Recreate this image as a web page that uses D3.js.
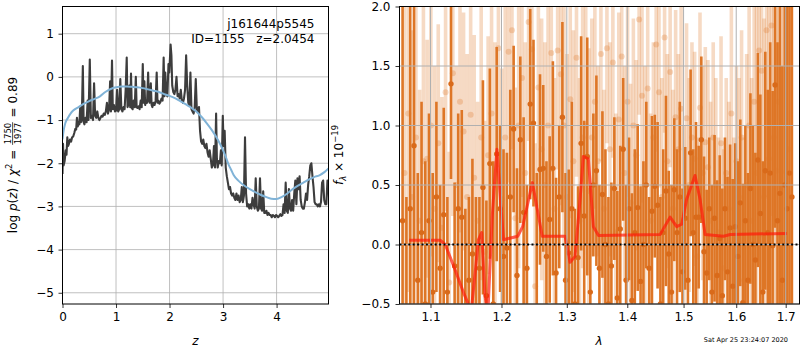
<!DOCTYPE html>
<html><head><meta charset="utf-8">
<script src="https://cdn.jsdelivr.net/npm/d3@7"></script>
<style>
body{margin:0;background:#fff}
svg{font-family:"DejaVu Sans",sans-serif}
text{white-space:pre}
</style>
</head><body><svg id="c" width="800" height="350"></svg>
<script>
// ---------- Left panel data: log p(z) ----------
const pzZ = [0.000,0.010,0.020,0.040,0.060,0.075,0.090,0.105,0.120,0.140,0.160,0.180,0.200,0.220,0.240,0.255,0.270,0.285,0.300,0.315,
0.330,0.345,0.360,0.380,0.395,0.410,0.430,0.450,0.470,0.485,0.510,0.530,0.550,0.570,0.590,0.610,0.630,0.650,0.670,0.690,
0.710,0.730,0.750,0.770,0.790,0.810,0.830,0.850,0.870,0.890,0.905,0.925,0.940,0.960,0.980,1.000,1.020,1.040,1.060,1.080,
1.100,1.120,1.140,1.160,1.180,1.200,1.215,1.230,1.250,1.265,1.280,1.295,1.310,1.330,1.350,1.370,1.385,1.400,1.420,1.440,
1.460,1.480,1.500,1.515,1.530,1.545,1.560,1.580,1.600,1.615,1.630,1.650,1.665,1.680,1.700,1.720,1.740,1.760,1.775,1.790,
1.810,1.830,1.850,1.870,1.890,1.905,1.920,1.940,1.960,1.980,1.995,2.020,2.035,2.050,2.070,2.090,2.110,2.130,2.150,2.170,
2.190,2.210,2.230,2.250,2.270,2.290,2.310,2.330,2.350,2.370,2.390,2.410,2.430,2.450,2.470,2.490,2.510,2.530,2.550,2.570,
2.590,2.610,2.630,2.650,2.670,2.690,2.710,2.730,2.750,2.770,2.790,2.810,2.830,2.850,2.870,2.885,2.900,2.920,2.940,2.960,
2.975,2.995,3.010,3.030,3.050,3.070,3.090,3.110,3.130,3.150,3.170,3.190,3.210,3.230,3.250,3.270,3.290,3.310,3.330,3.350,
3.370,3.390,3.410,3.430,3.450,3.470,3.490,3.510,3.530,3.550,3.570,3.590,3.610,3.630,3.650,3.670,3.690,3.710,3.730,3.750,
3.770,3.790,3.810,3.830,3.850,3.870,3.890,3.910,3.930,3.950,3.970,3.990,4.010,4.030,4.050,4.070,4.090,4.110,4.130,4.150,
4.170,4.190,4.210,4.230,4.250,4.270,4.290,4.310,4.330,4.350,4.370,4.390,4.410,4.430,4.450,4.470,4.490,4.510,4.530,4.550,
4.570,4.590,4.610,4.630,4.650,4.670,4.690,4.710,4.730,4.750,4.770,4.790,4.810,4.830,4.850,4.870,4.890,4.910,4.930,4.950,
4.970,4.985];
const pzLog = [-2.25,-1.55,-2.05,-1.95,-1.70,-1.80,-1.40,-1.60,-1.55,-1.45,-1.50,-1.40,-1.38,-1.30,-1.20,-1.22,-0.95,-1.15,-1.05,-1.10,
-0.72,-1.05,-1.00,0.25,-1.05,-1.10,-0.95,-1.05,-0.55,-1.00,0.40,-0.95,-0.90,-1.00,-0.15,-0.90,-0.95,-0.80,-0.95,-1.00,
-0.95,-0.90,-0.92,-0.85,-0.88,-0.80,-0.60,-0.85,-0.75,-0.10,-0.80,0.38,-0.75,-0.65,-0.80,-0.78,-0.30,-0.80,-0.75,-0.05,
-0.75,-0.80,-0.70,-0.75,-0.30,0.45,-0.70,-0.65,-0.20,-0.70,0.08,-0.72,-0.75,-0.55,-0.70,0.00,-0.70,-0.72,-0.68,-0.75,
-0.55,-0.70,0.30,-0.60,-0.10,-0.65,-0.55,-0.60,0.10,-0.55,-0.60,-0.15,-0.65,-0.70,-0.60,-0.65,-0.55,0.10,-0.60,-0.55,
-0.62,-0.58,-0.50,-0.55,0.45,-0.45,0.10,-0.40,-0.45,0.30,0.10,0.75,0.50,-0.20,-0.35,-0.40,-0.30,0.00,-0.45,-0.40,
-0.50,-0.30,-0.55,-0.60,-0.50,-0.30,0.50,-0.20,-0.60,-0.65,0.10,-0.75,-0.80,-0.85,-0.70,-0.05,-0.75,-0.80,-0.70,-1.25,
-1.50,-1.55,-1.45,-1.60,-1.65,-1.55,-1.75,-1.85,-1.70,-1.90,-2.10,-2.05,-1.60,-2.10,-0.85,-1.90,-2.10,-1.95,-2.00,-1.70,
-2.05,-0.90,-1.60,-1.25,-2.10,-2.30,-2.45,-2.60,-2.55,-2.70,-2.75,-2.70,-2.80,-2.85,-2.70,-2.85,-2.75,-2.90,-2.85,-2.55,
-2.90,-2.75,-1.40,-2.70,-3.00,-2.95,-3.05,-2.95,-3.05,-2.80,-2.95,-3.05,-2.35,-3.00,-3.10,-3.05,-2.35,-3.05,-3.10,-2.65,
-3.15,-3.15,-3.10,-3.20,-3.15,-3.20,-3.20,-3.25,-3.20,-3.22,-3.25,-3.20,-3.22,-3.25,-3.22,-3.18,-3.22,-3.20,-2.95,-3.15,
-2.45,-3.10,-3.15,-2.60,-3.05,-3.10,-2.85,-3.10,-2.70,-2.40,-2.95,-2.35,-2.60,-2.30,-2.85,-3.00,-3.05,-3.05,-2.90,-2.70,
-2.85,-2.50,-2.30,-2.05,-2.00,-2.30,-2.55,-2.90,-2.95,-2.95,-3.00,-2.95,-3.00,-2.90,-2.45,-2.40,-2.85,-2.95,-2.95,-2.40,
-2.45,-2.95];
const smoothZ = [0,0.02,0.05,0.1,0.15,0.2,0.3,0.4,0.5,0.6,0.7,0.8,0.9,1.0,1.1,1.2,1.3,1.4,1.5,1.6,1.7,1.8,1.9,2.0,2.1,2.2,2.3,2.4,2.5,2.6,2.7,2.8,2.9,3.0,3.05,3.1,3.15,3.2,3.3,3.4,3.5,3.6,3.7,3.8,3.9,4.0,4.1,4.2,4.3,4.4,4.5,4.6,4.7,4.8,4.9,4.97];
const smoothLog = [-1.45,-1.25,-1.08,-0.95,-0.85,-0.78,-0.70,-0.62,-0.56,-0.51,-0.45,-0.35,-0.28,-0.24,-0.22,-0.22,-0.23,-0.24,-0.26,-0.29,-0.32,-0.35,-0.40,-0.44,-0.49,-0.56,-0.63,-0.71,-0.80,-0.93,-1.08,-1.25,-1.45,-1.70,-1.85,-2.02,-2.15,-2.28,-2.42,-2.52,-2.60,-2.67,-2.73,-2.78,-2.82,-2.83,-2.78,-2.70,-2.60,-2.52,-2.45,-2.38,-2.32,-2.28,-2.20,-2.12];
const leftXTicks = [0,1,2,3,4];
const leftYTicks = [1,0,-1,-2,-3,-4,-5];

// ---------- Right panel data: spectrum ----------
const darkWave = [1.063,1.068,1.073,1.078,1.083,1.088,1.093,1.098,1.103,1.108,
1.113,1.118,1.123,1.128,1.133,1.138,1.143,1.148,1.153,1.158,
1.163,1.168,1.173,1.178,1.183,1.188,1.193,1.198,1.203,1.208,
1.213,1.218,1.223,1.228,1.233,1.238,1.243,1.248,1.253,1.258,
1.263,1.268,1.273,1.278,1.283,1.288,1.293,1.298,1.303,1.308,
1.313,1.318,1.323,1.328,1.333,1.338,1.343,1.348,1.353,1.358,
1.363,1.368,1.373,1.378,1.383,1.388,1.393,1.398,1.403,1.408,
1.413,1.418,1.423,1.428,1.433,1.438,1.443,1.448,1.453,1.458,
1.463,1.468,1.473,1.478,1.483,1.488,1.493,1.498,1.503,1.508,
1.513,1.518,1.523,1.528,1.533,1.538,1.543,1.548,1.553,1.558,
1.563,1.568,1.573,1.578,1.583,1.588,1.593,1.598,1.603,1.608,
1.613,1.618,1.623,1.628,1.633,1.638,1.643,1.648,1.653,1.658,
1.663,1.668,1.673,1.678,1.683,1.688,1.693,1.698,1.703,1.708,
1.713];
const darkFlux = [0.2,-0.6,0.3,0.83,-0.3,0.1,-0.5,0.2,-0.4,0.4,
-0.2,0.25,-0.4,1.35,-0.18,0.3,0.23,-0.6,-0.3,-0.08,
-0.6,-0.2,0.48,-0.43,0.68,-0.5,0.76,0.3,-0.1,-0.03,
0.4,0.97,-0.26,0.88,0.27,-0.2,1.18,1.02,-0.6,0.63,
0.64,-0.1,0.21,0.64,-0.24,0.4,1.07,-0.3,-0.07,0.3,
-0.5,-0.11,0.85,0.24,0.74,-0.4,0.5,0.62,-0.2,0.42,
0.0,-0.5,-0.18,0.47,-0.45,0.13,0.8,-0.3,0.3,-0.47,
0.1,0.31,-0.31,0.0,0.5,-0.2,0.28,0.49,0.33,-0.5,
0.1,0.45,-0.08,-0.4,0.46,0.1,0.4,-0.23,0.22,-0.3,
0.77,0.1,0.23,0.23,0.88,-0.06,-0.24,0.3,-0.4,0.22,
-0.26,0.05,-0.43,0.3,-0.23,0.14,-0.35,0.15,-0.1,0.35,
-0.49,0.2,-0.3,0.47,0.0,-0.13,0.71,0.26,-0.4,0.62,
0.1,0.6,-0.01,1.34,0.2,0.43,-0.3,0.5,0.3,0.6,
0.4];
const darkErr = [2.5,1.0,2.0,1.6,0.9,1.1,1.2,0.9,1.0,0.8,
0.7,0.9,0.8,0.8,0.7,0.8,0.9,0.9,0.7,0.8,
1.0,0.6,0.9,0.8,0.8,1.2,0.9,0.7,0.9,0.8,
0.9,0.7,0.9,0.7,0.8,0.7,0.8,0.7,1.2,0.8,
0.7,0.8,0.7,0.9,0.8,0.6,0.8,0.9,0.7,0.9,
0.8,0.6,0.9,0.8,1.0,0.9,0.6,0.8,0.7,0.7,
0.8,0.9,0.7,0.6,0.9,0.7,0.6,0.8,0.6,0.9,
0.7,0.7,0.8,0.7,0.7,0.6,0.8,0.6,0.7,0.9,
0.7,0.8,0.7,0.9,0.6,0.7,0.8,0.7,0.6,0.8,
0.7,0.7,0.8,0.6,0.7,0.8,0.7,0.6,0.9,0.7,
0.8,0.7,0.9,0.6,0.8,0.7,0.9,0.7,0.8,0.7,
1.0,0.8,0.9,0.8,1.0,0.9,0.9,1.0,1.1,1.0,
1.2,1.1,1.3,1.2,1.5,1.6,1.8,2.0,2.5,2.5,
2.5];
const lightWave = [1.0655,1.0705,1.0755,1.0805,1.0855,1.0905,1.0955,1.1005,1.1055,1.1105,
1.1155,1.1205,1.1255,1.1305,1.1355,1.1405,1.1455,1.1505,1.1555,1.1605,
1.1655,1.1705,1.1755,1.1805,1.1855,1.1905,1.1955,1.2005,1.2055,1.2105,
1.2155,1.2205,1.2255,1.2305,1.2355,1.2405,1.2455,1.2505,1.2555,1.2605,
1.2655,1.2705,1.2755,1.2805,1.2855,1.2905,1.2955,1.3005,1.3055,1.3105,
1.3155,1.3205,1.3255,1.3305,1.3355,1.3405,1.3455,1.3505,1.3555,1.3605,
1.3655,1.3705,1.3755,1.3805,1.3855,1.3905,1.3955,1.4005,1.4055,1.4105,
1.4155,1.4205,1.4255,1.4305,1.4355,1.4405,1.4455,1.4505,1.4555,1.4605,
1.4655,1.4705,1.4755,1.4805,1.4855,1.4905,1.4955,1.5005,1.5055,1.5105,
1.5155,1.5205,1.5255,1.5305,1.5355,1.5405,1.5455,1.5505,1.5555,1.5605,
1.5655,1.5705,1.5755,1.5805,1.5855,1.5905,1.5955,1.6005,1.6055,1.6105,
1.6155,1.6205,1.6255,1.6305,1.6355,1.6405,1.6455,1.6505,1.6555,1.6605,
1.6655,1.6705,1.6755,1.6805,1.6855,1.6905,1.6955,1.7005,1.7055];
const lightFlux = [0.6,1.1,0.4,0.9,0.2,0.7,0.72,1.0,0.3,0.85,
0.14,1.28,-0.32,1.44,0.5,1.2,0.95,0.4,1.09,0.56,
0.2,0.9,-0.06,0.75,1.1,0.5,1.65,0.38,0.9,1.62,
1.8,0.22,1.0,1.4,0.6,1.87,1.64,-0.35,1.32,0.8,
0.5,1.0,1.61,0.3,1.63,1.43,1.0,0.4,1.22,0.7,
1.57,0.2,0.9,1.0,0.45,0.9,1.2,0.7,1.6,0.3,
1.65,0.8,1.53,0.1,1.05,1.58,0.6,1.2,0.35,1.0,
0.75,1.89,1.25,0.5,1.31,0.2,0.9,1.68,1.28,0.4,
1.74,0.7,1.45,0.3,1.07,0.8,1.14,0.0,1.06,0.5,
0.9,0.72,-0.1,1.15,0.6,0.86,0.65,0.2,0.9,0.5,
0.1,0.85,-0.2,0.6,0.3,1.1,0.0,0.7,0.4,0.9,
-0.3,0.5,1.0,0.2,1.2,0.6,1.63,1.46,0.4,1.8,
0.72,1.84,0.9,0.62,1.2,0.5,1.0,0.61,0.8];
const lightErr = [2.0,1.5,1.4,1.2,1.1,1.3,1.0,1.1,1.2,1.0,
1.1,1.0,1.1,1.2,1.0,1.1,1.0,1.2,1.1,1.2,
1.0,1.2,1.1,1.0,1.1,1.2,1.0,1.1,1.2,1.1,
1.0,1.1,1.2,1.0,1.1,1.0,1.1,1.2,1.0,1.1,
1.2,1.1,1.0,1.1,1.0,1.1,1.0,1.2,1.0,1.1,
1.0,1.2,1.1,1.0,1.2,1.0,0.9,0.8,0.9,1.0,
0.8,0.9,0.8,1.0,0.9,0.8,0.9,0.8,1.0,0.9,
0.8,0.8,0.9,1.0,0.8,0.9,0.8,0.9,0.8,1.0,
0.8,0.9,0.8,1.0,0.9,0.8,0.9,1.0,0.8,0.9,
0.8,0.9,1.0,0.8,0.9,0.8,0.9,1.0,0.8,0.9,
0.8,0.9,1.0,0.8,0.9,1.0,0.9,0.8,1.0,0.9,
1.2,1.1,1.3,1.2,1.3,1.4,1.3,1.4,1.5,1.4,
1.5,1.6,1.8,2.0,2.0,2.2,2.4,2.5,2.5];
const modelWave = [1.0717,1.1135,1.1200,1.1316,1.1458,1.1508,1.1560,1.1666,1.1712,1.1760,1.1800,1.1865,1.1933,1.1984,1.2030,1.2243,1.2315,1.2463,1.2614,1.2973,1.3052,1.3132,1.3213,1.3266,1.3348,1.3431,1.3515,1.4576,1.4754,1.4874,1.4965,1.5057,1.5212,1.5306,1.5401,1.5752,1.5883,1.7025];
const modelFlux = [0.035,0.035,0.00,-0.18,-0.41,-0.48,-0.58,0.04,0.10,-0.43,-0.60,0.24,0.80,0.38,0.04,0.07,0.15,0.52,0.07,0.07,-0.15,-0.10,0.38,0.74,0.72,0.15,0.075,0.084,0.23,0.15,0.17,0.38,0.58,0.38,0.084,0.07,0.084,0.093];
const rightXTicks = [1.1,1.2,1.3,1.4,1.5,1.6,1.7];
const rightYTicks = [2.0,1.5,1.0,0.5,0.0,-0.5];

// ---------- Drawing ----------
const svg = d3.select("#c");
const minus = s => s.replace(/-/g, "\u2212");
const GRID = "#b0b0b0";

function styleAxis(g) {
  g.select(".domain").remove();
  g.selectAll(".tick line").attr("stroke", "#000").attr("stroke-width", 0.8);
  g.selectAll(".tick text").attr("fill", "#000").style("font-size", "12px")
    .style("font-family", '"DejaVu Sans", sans-serif');
}

// ===== Left panel =====
const L = {x0: 62.5, x1: 328.5, y0: 6.5, y1: 304};
const xL = d3.scaleLinear().domain([0, 4.97]).range([L.x0, L.x1]);
const yL = d3.scaleLinear().domain([-5.26, 1.63]).range([L.y1, L.y0]);

svg.append("clipPath").attr("id", "clipL").append("rect")
  .attr("x", L.x0).attr("y", L.y0).attr("width", L.x1 - L.x0).attr("height", L.y1 - L.y0);

const gridL = svg.append("g");
leftXTicks.forEach(t => gridL.append("line").attr("x1", xL(t)).attr("x2", xL(t))
  .attr("y1", L.y0).attr("y2", L.y1).attr("stroke", GRID).attr("stroke-width", 0.8));
leftYTicks.forEach(t => gridL.append("line").attr("y1", yL(t)).attr("y2", yL(t))
  .attr("x1", L.x0).attr("x2", L.x1).attr("stroke", GRID).attr("stroke-width", 0.8));

const plotL = svg.append("g").attr("clip-path", "url(#clipL)");
const pzData = pzZ.map((z, i) => [z, pzLog[i]]);
const smData = smoothZ.map((z, i) => [z, smoothLog[i]]);
const lineL = d3.line().x(d => xL(d[0])).y(d => yL(d[1]));
plotL.append("path").datum(pzData).attr("d", lineL).attr("fill", "none")
  .attr("stroke", "#333").attr("stroke-opacity", 0.95).attr("stroke-width", 2.1).attr("stroke-linejoin", "round");
plotL.append("path").datum(smData).attr("d", d3.line().x(d => xL(d[0])).y(d => yL(d[1])).curve(d3.curveMonotoneX))
  .attr("fill", "none").attr("stroke", "#80b3d7").attr("stroke-width", 2);

svg.append("g").attr("transform", `translate(${L.x0},0)`)
  .call(d3.axisLeft(yL).tickValues(leftYTicks).tickSize(4).tickPadding(4.5).tickFormat(d => minus(d3.format("d")(d))))
  .call(styleAxis);
svg.append("g").attr("transform", `translate(0,${L.y1})`)
  .call(d3.axisBottom(xL).tickValues(leftXTicks).tickSize(4).tickPadding(4.5).tickFormat(d3.format("d")))
  .call(styleAxis);
svg.append("rect").attr("x", L.x0).attr("y", L.y0).attr("width", L.x1 - L.x0).attr("height", L.y1 - L.y0)
  .attr("fill", "none").attr("stroke", "#000").attr("stroke-width", 1);

svg.append("text").attr("x", 314.5).attr("y", 28).attr("text-anchor", "end").style("font-size", "12px").text("j161644p5545");
svg.append("text").attr("x", 314.5).attr("y", 43).attr("text-anchor", "end").style("font-size", "12px").text("ID=1155   z=2.0454");

svg.append("text").attr("x", (L.x0 + L.x1) / 2).attr("y", 345).attr("text-anchor", "middle")
  .style("font-size", "12px").style("font-style", "italic").text("z");

function vlabel(cx, cy, build) {
  const g = svg.append("g").attr("transform", `translate(${cx},${cy}) rotate(-90)`);
  const inner = g.append("g");
  build(inner);
  const bb = inner.node().getBBox();
  inner.attr("transform", `translate(${-bb.x - bb.width / 2},0)`);
}

vlabel(16.5, 155, inner => {
  const t1 = inner.append("text").attr("x", 0).attr("y", 0).style("font-size", "12px");
  t1.append("tspan").text("log ");
  t1.append("tspan").style("font-style", "italic").text("p");
  t1.append("tspan").text("(");
  t1.append("tspan").style("font-style", "italic").text("z");
  t1.append("tspan").text(") / ");
  t1.append("tspan").style("font-style", "italic").text("\u03c7");
  t1.append("tspan").attr("dy", -5).style("font-size", "8.5px").text("2");
  t1.append("tspan").attr("dy", 5).text(" = ");
  const w1 = t1.node().getComputedTextLength();
  const num = inner.append("text").attr("y", -5.5).attr("text-anchor", "middle").style("font-size", "8.5px").text("1750");
  const den = inner.append("text").attr("y", 4.2).attr("text-anchor", "middle").style("font-size", "8.5px").text("1977");
  const fw = Math.max(num.node().getComputedTextLength(), den.node().getComputedTextLength()) + 1;
  const fx = w1 + 1;
  num.attr("x", fx + fw / 2); den.attr("x", fx + fw / 2);
  inner.append("line").attr("x1", fx).attr("x2", fx + fw).attr("y1", -3.9).attr("y2", -3.9)
    .attr("stroke", "#000").attr("stroke-width", 0.7);
  inner.append("text").attr("x", fx + fw + 1).attr("y", 0).style("font-size", "12px").text(" = 0.89");
});

// ===== Right panel =====
const R = {x0: 399.5, x1: 799.5, y0: 6.5, y1: 304};
const xR = d3.scaleLog().domain([1.059, 1.729]).range([R.x0, R.x1]);
const yR = d3.scaleLinear().domain([-0.5, 2.0]).range([R.y1, R.y0]);
const ORANGE = "#de7626";

svg.append("clipPath").attr("id", "clipR").append("rect")
  .attr("x", R.x0).attr("y", R.y0).attr("width", R.x1 - R.x0).attr("height", R.y1 - R.y0);
const plotR = svg.append("g").attr("clip-path", "url(#clipR)");

const lightData = lightWave.map((w, i) => ({w, f: lightFlux[i], e: lightErr[i]}));
const darkData = darkWave.map((w, i) => ({w, f: darkFlux[i], e: darkErr[i]}));

const gl = plotR.append("g");
gl.selectAll("line").data(lightData).join("line")
  .attr("x1", d => xR(d.w)).attr("x2", d => xR(d.w))
  .attr("y1", d => yR(d.f - d.e)).attr("y2", d => yR(d.f + d.e))
  .attr("stroke", ORANGE).attr("stroke-opacity", 0.27).attr("stroke-width", 3.6);
gl.selectAll("circle").data(lightData).join("circle")
  .attr("cx", d => xR(d.w)).attr("cy", d => yR(d.f)).attr("r", 3)
  .attr("fill", ORANGE).attr("fill-opacity", 0.28);

const gd = plotR.append("g");
gd.selectAll("line").data(darkData).join("line")
  .attr("x1", d => xR(d.w)).attr("x2", d => xR(d.w))
  .attr("y1", d => yR(d.f - d.e)).attr("y2", d => yR(d.f + d.e))
  .attr("stroke", ORANGE).attr("stroke-width", 2.6);
gd.selectAll("circle").data(darkData).join("circle")
  .attr("cx", d => xR(d.w)).attr("cy", d => yR(d.f)).attr("r", 2.7)
  .attr("fill", "#d96a1a");

// grid on top
const gridR = svg.append("g");
rightXTicks.forEach(t => gridR.append("line").attr("x1", xR(t)).attr("x2", xR(t))
  .attr("y1", R.y0).attr("y2", R.y1).attr("stroke", GRID).attr("stroke-width", 1));
rightYTicks.forEach(t => gridR.append("line").attr("y1", yR(t)).attr("y2", yR(t))
  .attr("x1", R.x0).attr("x2", R.x1).attr("stroke", GRID).attr("stroke-width", 1));

const modelData = modelWave.map((w, i) => [w, modelFlux[i]]);
plotR.append("path").datum(modelData).attr("d", d3.line().x(d => xR(d[0])).y(d => yR(d[1])))
  .attr("fill", "none").attr("stroke", "#ff1a0a").attr("stroke-opacity", 0.7).attr("stroke-width", 3)
  .attr("stroke-linejoin", "round");

svg.append("line").attr("x1", R.x0).attr("x2", R.x1).attr("y1", yR(0)).attr("y2", yR(0))
  .attr("stroke", "#000").attr("stroke-width", 1.8).attr("stroke-dasharray", "2,2.4");

svg.append("g").attr("transform", `translate(${R.x0},0)`)
  .call(d3.axisLeft(yR).tickValues(rightYTicks).tickSize(4).tickPadding(5).tickFormat(d => minus(d3.format(".1f")(d))))
  .call(styleAxis);
svg.append("g").attr("transform", `translate(0,${R.y1})`)
  .call(d3.axisBottom(xR).tickValues(rightXTicks).tickSize(4).tickPadding(4.5).tickFormat(d3.format(".1f")))
  .call(styleAxis);
svg.append("rect").attr("x", R.x0).attr("y", R.y0).attr("width", R.x1 - R.x0).attr("height", R.y1 - R.y0)
  .attr("fill", "none").attr("stroke", "#000").attr("stroke-width", 1);

svg.append("text").attr("x", 599).attr("y", 345).attr("text-anchor", "middle")
  .style("font-size", "12px").style("font-style", "italic").text("\u03bb");

vlabel(343, 155, inner => {
  const t = inner.append("text").attr("x", 0).attr("y", 0).style("font-size", "12px");
  t.append("tspan").style("font-style", "italic").text("f");
  t.append("tspan").attr("dy", 3).style("font-size", "8.5px").style("font-style", "italic").text("\u03bb");
  t.append("tspan").attr("dy", -3).text(" \u00d7 10");
  t.append("tspan").attr("dy", -5).style("font-size", "8.5px").text("\u221219");
});

svg.append("text").attr("x", 788).attr("y", 342).attr("text-anchor", "end")
  .style("font-size", "6.5px").text("Sat Apr 25 23:24:07 2020");
</script>
</body></html>
